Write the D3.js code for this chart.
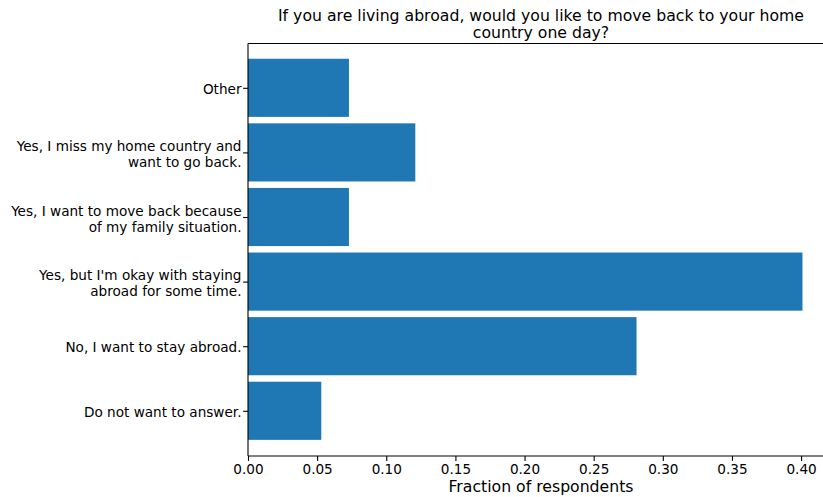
<!DOCTYPE html>
<html>
<head>
<meta charset="utf-8">
<script src="https://cdn.jsdelivr.net/npm/d3@7"></script>
<style>
  html, body { margin: 0; padding: 0; background: #fff; }
  svg { display: block; font-family: "DejaVu Sans", sans-serif; }
</style>
</head>
<body>
<svg id="chart" width="823" height="497"></svg>
<script>
const categories = [
  "Do not want to answer.",
  "No, I want to stay abroad.",
  "Yes, but I'm okay with staying\nabroad for some time.",
  "Yes, I want to move back because\nof my family situation.",
  "Yes, I miss my home country and\nwant to go back.",
  "Other"
];
const values = [0.053, 0.281, 0.401, 0.073, 0.121, 0.073];
const xTicks = [0.00, 0.05, 0.10, 0.15, 0.20, 0.25, 0.30, 0.35, 0.40];
const titleLines = ["If you are living abroad, would you like to move back to your home", "country one day?"];
const xLabel = "Fraction of respondents";

(function () {
const svg = d3.select("#chart");
const pLeft = 248, pRight = 834, pTop = 43.5, pBottom = 456;
const tickFont = 13.6, bigFont = 15.7;

const x = d3.scaleLinear().domain([0, 0.4238]).range([pLeft, pRight]);
const y = d3.scaleLinear().domain([-0.70, 5.686]).range([pBottom, pTop]);
const barH = y(0) - y(0.9);

// bars
svg.append("g").selectAll("rect")
  .data(values)
  .join("rect")
  .attr("x", x(0))
  .attr("y", (d, i) => y(i) - barH / 2)
  .attr("width", d => x(d) - x(0))
  .attr("height", barH)
  .attr("fill", "#1f77b4");

// x axis
const xAxis = d3.axisBottom(x)
  .tickValues(xTicks)
  .tickFormat(d3.format(".2f"))
  .tickSize(4.9)
  .tickPadding(4.5);
const gx = svg.append("g").attr("transform", `translate(0,${pBottom})`).call(xAxis);
gx.select(".domain").remove();
gx.selectAll("line").attr("stroke", "#000").attr("stroke-width", 1.1);
gx.selectAll("text").attr("font-size", tickFont).attr("fill", "#000")
  .attr("font-family", "DejaVu Sans, sans-serif")
  .attr("dy", null).attr("y", 18);

// y axis
const yAxis = d3.axisLeft(y)
  .tickValues(d3.range(categories.length))
  .tickFormat("")
  .tickSize(4.9);
const gy = svg.append("g").attr("transform", `translate(${pLeft},0)`).call(yAxis);
gy.select(".domain").remove();
gy.selectAll("line").attr("stroke", "#000").attr("stroke-width", 1.1);

// y labels (multi-line)
svg.append("g").selectAll("text")
  .data(categories)
  .join("text")
  .attr("text-anchor", "end")
  .attr("font-size", tickFont)
  .attr("fill", "#000")
  .attr("x", pLeft - 6.5)
  .attr("y", (d, i) => y(i))
  .each(function(d) {
    const lines = d.split("\n");
    const lh = 16;
    const t = d3.select(this);
    lines.forEach((ln, k) => {
      t.append("tspan")
        .attr("x", pLeft - 6.5)
        .attr("dy", k === 0 ? (lines.length > 1 ? -1.5 : 6) : lh)
        .text(ln);
    });
  });

// spines
const spine = (x1, y1, x2, y2) => svg.append("line")
  .attr("x1", x1).attr("y1", y1).attr("x2", x2).attr("y2", y2)
  .attr("stroke", "#000").attr("stroke-width", 1.1);
spine(pLeft, pTop, pLeft, pBottom);
spine(pLeft, pBottom, pRight, pBottom);
spine(pLeft, pTop, pRight, pTop);
spine(pRight, pTop, pRight, pBottom);

// title
const cx = (pLeft + pRight) / 2;
svg.append("text").attr("text-anchor", "middle").attr("font-size", bigFont).attr("fill", "#000")
  .selectAll("tspan").data(titleLines).join("tspan")
  .attr("x", cx).attr("y", (d, i) => 20.5 + i * 17.5).text(d => d);

// x label
svg.append("text").attr("text-anchor", "middle").attr("font-size", bigFont).attr("fill", "#000")
  .attr("x", cx).attr("y", 492).text(xLabel);
})();
</script>
</body>
</html>
